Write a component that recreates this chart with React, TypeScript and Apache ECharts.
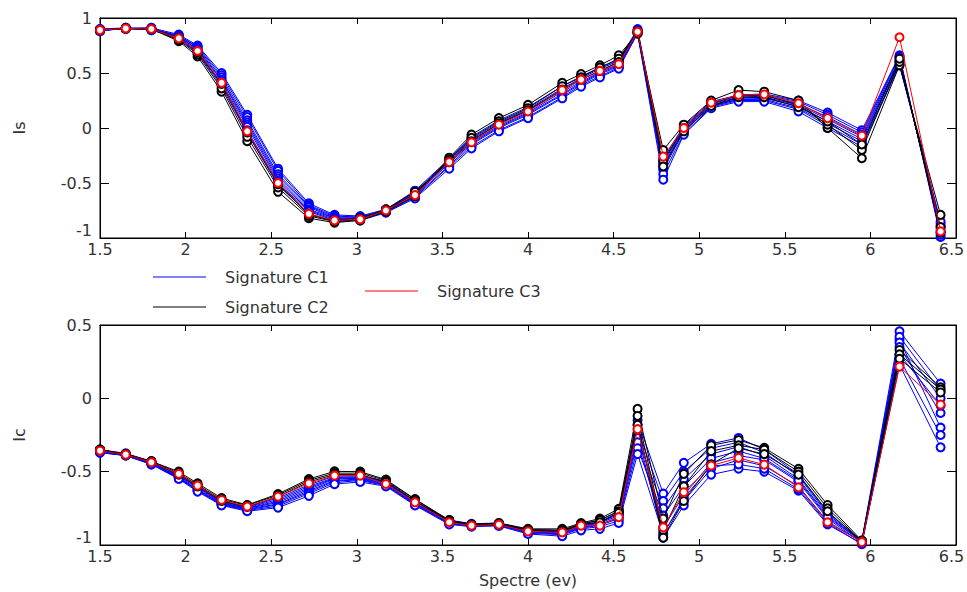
import React, { useEffect, useRef } from "react";
import * as echarts from "echarts";

// Photon energy (eV) of each sample
const energies = [
  1.5, 1.65, 1.8, 1.96, 2.07, 2.21, 2.36, 2.54, 2.72, 2.87, 3.02, 3.17, 3.34, 3.54, 3.67, 3.83,
  4.0, 4.2, 4.31, 4.42, 4.53, 4.64, 4.79, 4.91, 5.07, 5.23, 5.38, 5.58, 5.75, 5.95, 6.17, 6.41,
];

const xTicks = { min: 1.5, max: 6.5, interval: 0.5 };
const isTicks = { min: -1, max: 1, interval: 0.5 };
const icTicks = { min: -1, max: 0.5, interval: 0.5 };

const legendNames = ["Signature C1", "Signature C2", "Signature C3"];

// Is — one row per energy, one column per curve
const isBlueRows = [
  [0.90, 0.89, 0.89, 0.88, 0.89, 0.90, 0.88, 0.89],
  [0.91, 0.905, 0.90, 0.91, 0.905, 0.90, 0.91, 0.905],
  [0.91, 0.90, 0.90, 0.89, 0.90, 0.91, 0.89, 0.90],
  [0.85, 0.84, 0.84, 0.83, 0.83, 0.82, 0.82, 0.81],
  [0.75, 0.74, 0.73, 0.72, 0.71, 0.70, 0.69, 0.68],
  [0.50, 0.48, 0.46, 0.44, 0.43, 0.41, 0.40, 0.38],
  [0.12, 0.10, 0.07, 0.05, 0.03, 0.01, -0.02, -0.05],
  [-0.37, -0.39, -0.42, -0.44, -0.46, -0.48, -0.50, -0.52],
  [-0.685, -0.70, -0.71, -0.72, -0.74, -0.75, -0.76, -0.78],
  [-0.79, -0.80, -0.81, -0.82, -0.82, -0.83, -0.84, -0.85],
  [-0.80, -0.81, -0.81, -0.82, -0.82, -0.83, -0.83, -0.84],
  [-0.74, -0.745, -0.75, -0.75, -0.76, -0.76, -0.765, -0.77],
  [-0.57, -0.58, -0.59, -0.60, -0.61, -0.62, -0.63, -0.64],
  [-0.28, -0.29, -0.30, -0.31, -0.32, -0.34, -0.35, -0.37],
  [-0.08, -0.10, -0.11, -0.13, -0.14, -0.15, -0.17, -0.185],
  [0.07, 0.05, 0.04, 0.02, 0.01, 0.0, -0.02, -0.03],
  [0.19, 0.17, 0.16, 0.14, 0.13, 0.12, 0.10, 0.09],
  [0.38, 0.36, 0.34, 0.33, 0.31, 0.30, 0.28, 0.27],
  [0.47, 0.45, 0.44, 0.42, 0.41, 0.40, 0.39, 0.375],
  [0.55, 0.54, 0.52, 0.51, 0.50, 0.49, 0.47, 0.46],
  [0.62, 0.61, 0.60, 0.58, 0.57, 0.56, 0.55, 0.54],
  [0.90, 0.89, 0.88, 0.88, 0.87, 0.87, 0.86, 0.86],
  [-0.28, -0.30, -0.32, -0.34, -0.36, -0.38, -0.42, -0.47],
  [0.02, 0.01, 0.0, -0.01, -0.02, -0.03, -0.05, -0.06],
  [0.24, 0.23, 0.22, 0.21, 0.20, 0.20, 0.19, 0.18],
  [0.30, 0.29, 0.28, 0.27, 0.26, 0.26, 0.25, 0.24],
  [0.31, 0.30, 0.29, 0.28, 0.27, 0.26, 0.25, 0.24],
  [0.25, 0.24, 0.22, 0.21, 0.20, 0.18, 0.17, 0.15],
  [0.14, 0.12, 0.10, 0.08, 0.06, 0.04, 0.02, 0.0],
  [-0.02, -0.04, -0.06, -0.08, -0.10, -0.12, -0.15, -0.17],
  [0.66, 0.65, 0.64, 0.62, 0.61, 0.60, 0.58, 0.57],
  [-0.99, -0.97, -0.95, -0.93, -0.91, -0.89, -0.87, -0.85],
];

const isBlackRows = [
  [0.89, 0.89, 0.89],
  [0.905, 0.905, 0.905],
  [0.90, 0.90, 0.90],
  [0.79, 0.80, 0.82],
  [0.65, 0.67, 0.69],
  [0.33, 0.36, 0.40],
  [-0.12, -0.08, -0.04],
  [-0.58, -0.54, -0.51],
  [-0.82, -0.80, -0.79],
  [-0.86, -0.85, -0.84],
  [-0.84, -0.83, -0.82],
  [-0.76, -0.75, -0.74],
  [-0.62, -0.60, -0.58],
  [-0.27, -0.29, -0.31],
  [-0.06, -0.09, -0.12],
  [0.09, 0.06, 0.04],
  [0.21, 0.18, 0.16],
  [0.41, 0.38, 0.35],
  [0.49, 0.46, 0.44],
  [0.57, 0.55, 0.52],
  [0.66, 0.63, 0.60],
  [0.86, 0.87, 0.88],
  [-0.20, -0.30, -0.35],
  [0.03, 0.0, -0.03],
  [0.25, 0.22, 0.20],
  [0.345, 0.30, 0.28],
  [0.33, 0.30, 0.28],
  [0.25, 0.21, 0.19],
  [0.0, 0.03, 0.06],
  [-0.275, -0.20, -0.15],
  [0.57, 0.60, 0.63],
  [-0.79, -0.90, -0.95],
];

const isRed = [
  0.89, 0.905, 0.90, 0.815, 0.70, 0.41, -0.03, -0.50, -0.78, -0.84, -0.83, -0.75, -0.61, -0.31, -0.13, 0.03,
  0.15, 0.345, 0.44, 0.52, 0.58, 0.875, -0.26, 0.0, 0.23, 0.30, 0.305, 0.225, 0.09, -0.07, 0.825, -0.94,
];

// Ic — one row per energy, one column per curve
const icBlueRows = [
  [-0.35, -0.355, -0.36, -0.36, -0.365, -0.365, -0.37, -0.37],
  [-0.375, -0.38, -0.38, -0.385, -0.385, -0.39, -0.39, -0.39],
  [-0.43, -0.43, -0.435, -0.44, -0.44, -0.445, -0.45, -0.45],
  [-0.52, -0.525, -0.53, -0.535, -0.54, -0.54, -0.545, -0.55],
  [-0.59, -0.60, -0.605, -0.61, -0.62, -0.625, -0.63, -0.636],
  [-0.70, -0.705, -0.71, -0.715, -0.72, -0.72, -0.725, -0.73],
  [-0.74, -0.745, -0.75, -0.75, -0.755, -0.76, -0.765, -0.77],
  [-0.68, -0.69, -0.70, -0.71, -0.72, -0.725, -0.735, -0.745],
  [-0.59, -0.60, -0.61, -0.62, -0.63, -0.64, -0.65, -0.665],
  [-0.53, -0.54, -0.545, -0.55, -0.56, -0.565, -0.575, -0.585],
  [-0.53, -0.535, -0.54, -0.545, -0.55, -0.555, -0.56, -0.57],
  [-0.565, -0.57, -0.575, -0.58, -0.585, -0.59, -0.595, -0.60],
  [-0.70, -0.705, -0.71, -0.715, -0.72, -0.72, -0.725, -0.73],
  [-0.83, -0.835, -0.84, -0.845, -0.85, -0.85, -0.855, -0.86],
  [-0.855, -0.86, -0.86, -0.865, -0.865, -0.87, -0.87, -0.875],
  [-0.85, -0.855, -0.855, -0.86, -0.86, -0.865, -0.865, -0.87],
  [-0.895, -0.90, -0.905, -0.91, -0.91, -0.915, -0.92, -0.925],
  [-0.90, -0.905, -0.91, -0.915, -0.92, -0.925, -0.93, -0.94],
  [-0.86, -0.865, -0.87, -0.875, -0.88, -0.885, -0.89, -0.90],
  [-0.83, -0.84, -0.845, -0.85, -0.86, -0.865, -0.875, -0.89],
  [-0.77, -0.78, -0.79, -0.80, -0.81, -0.82, -0.835, -0.85],
  [-0.15, -0.18, -0.21, -0.24, -0.27, -0.30, -0.34, -0.38],
  [-0.65, -0.92, -0.70, -0.95, -0.75, -0.88, -0.80, -0.93],
  [-0.44, -0.70, -0.50, -0.73, -0.55, -0.66, -0.60, -0.68],
  [-0.31, -0.48, -0.34, -0.52, -0.38, -0.44, -0.41, -0.46],
  [-0.27, -0.42, -0.30, -0.48, -0.33, -0.39, -0.36, -0.45],
  [-0.35, -0.46, -0.37, -0.50, -0.39, -0.42, -0.41, -0.48],
  [-0.52, -0.60, -0.53, -0.63, -0.55, -0.57, -0.56, -0.62],
  [-0.78, -0.84, -0.79, -0.86, -0.80, -0.82, -0.81, -0.85],
  [-0.97, -0.98, -0.975, -0.99, -0.98, -0.985, -0.975, -0.995],
  [0.457, 0.40, 0.42, 0.23, 0.38, 0.35, 0.30, 0.27],
  [0.10, -0.20, 0.05, -0.334, 0.0, -0.10, -0.05, -0.25],
];

const icBlackRows = [
  [-0.35, -0.35, -0.355],
  [-0.38, -0.38, -0.385],
  [-0.43, -0.43, -0.435],
  [-0.50, -0.51, -0.52],
  [-0.58, -0.59, -0.60],
  [-0.68, -0.69, -0.70],
  [-0.727, -0.73, -0.74],
  [-0.652, -0.66, -0.67],
  [-0.55, -0.56, -0.57],
  [-0.498, -0.51, -0.52],
  [-0.50, -0.51, -0.52],
  [-0.554, -0.56, -0.57],
  [-0.687, -0.69, -0.70],
  [-0.83, -0.835, -0.84],
  [-0.86, -0.86, -0.865],
  [-0.85, -0.855, -0.86],
  [-0.89, -0.895, -0.90],
  [-0.89, -0.90, -0.91],
  [-0.85, -0.855, -0.86],
  [-0.82, -0.83, -0.845],
  [-0.754, -0.77, -0.78],
  [-0.072, -0.12, -0.18],
  [-0.82, -0.90, -0.95],
  [-0.515, -0.60, -0.70],
  [-0.32, -0.36, -0.45],
  [-0.284, -0.32, -0.34],
  [-0.338, -0.35, -0.38],
  [-0.48, -0.50, -0.52],
  [-0.727, -0.75, -0.77],
  [-0.97, -0.975, -0.98],
  [0.33, 0.30, 0.27],
  [0.075, 0.06, 0.04],
];

const icRed = [
  -0.357, -0.384, -0.436, -0.515, -0.595, -0.693, -0.738, -0.67, -0.58, -0.527, -0.527, -0.584, -0.709, -0.845,
  -0.868, -0.861, -0.907, -0.914, -0.868, -0.868, -0.81, -0.21, -0.88, -0.64, -0.459, -0.406, -0.452, -0.607,
  -0.845, -0.98, 0.216, -0.043,
];

const FONT = "DejaVu Sans";
const TEXT = "#333";
const colors = { c1: "#0000ff", c2: "#000000", c3: "#ff0000" };

function column(rows: number[][], k: number) {
  return rows.map((r, i) => [energies[i], r[k]]);
}
function pairs(vals: number[]) {
  return vals.map((v, i) => [energies[i], v]);
}

function lineSeries(name: string, color: string, data: number[][], panel: number, z: number) {
  return {
    type: "line",
    name,
    data,
    xAxisIndex: panel * 2,
    yAxisIndex: panel * 2,
    symbol: "emptyCircle",
    symbolSize: 8,
    showSymbol: true,
    clip: false,
    z,
    lineStyle: { color, width: 1 },
    itemStyle: { color, borderColor: color, borderWidth: 1 },
    emphasis: { disabled: true },
  };
}

function buildSeries() {
  const out: any[] = [];
  const panels = [
    { blue: isBlueRows, black: isBlackRows, red: isRed },
    { blue: icBlueRows, black: icBlackRows, red: icRed },
  ];
  panels.forEach((p, panel) => {
    for (let k = 0; k < p.blue[0].length; k++) out.push(lineSeries(legendNames[0], colors.c1, column(p.blue, k), panel, 2));
    for (let k = 0; k < p.black[0].length; k++) out.push(lineSeries(legendNames[1], colors.c2, column(p.black, k), panel, 3));
    out.push(lineSeries(legendNames[2], colors.c3, pairs(p.red), panel, 4));
  });
  return out;
}

const labelStyle = { color: TEXT, fontSize: 16, fontFamily: FONT };

function xAxes(gridIndex: number) {
  return [
    {
      type: "value",
      gridIndex,
      ...xTicks,
      position: "bottom",
      axisLine: { show: true, onZero: false, lineStyle: { color: "#000", width: 1 } },
      axisTick: { show: true, inside: true, length: 6, lineStyle: { color: "#000" } },
      axisLabel: {
        ...labelStyle,
        lineHeight: 12,
        margin: 5,
        showMinLabel: true,
        showMaxLabel: true,
        formatter: (v: number) => (Math.abs(v - xTicks.max) < 1e-9 ? `{last|${v}}` : `${v}`),
        rich: { last: { ...labelStyle, lineHeight: 12, padding: [0, 9, 0, 0] } },
      },
      splitLine: { show: false },
      ...(gridIndex === 1
        ? { name: "Spectre (ev)", nameLocation: "middle", nameGap: 27, nameTextStyle: { ...labelStyle } }
        : {}),
    },
    {
      type: "value",
      gridIndex,
      ...xTicks,
      position: "top",
      axisLine: { show: true, onZero: false, lineStyle: { color: "#000", width: 1 } },
      axisTick: { show: true, inside: true, length: 6, lineStyle: { color: "#000" } },
      axisLabel: { show: false },
      splitLine: { show: false },
    },
  ];
}

function yAxes(gridIndex: number, ticks: any, name: string) {
  return [
    {
      type: "value",
      gridIndex,
      ...ticks,
      position: "left",
      name,
      nameLocation: "middle",
      nameGap: 73,
      nameRotate: 90,
      nameTextStyle: { ...labelStyle },
      axisLine: { show: true, onZero: false, lineStyle: { color: "#000", width: 1 } },
      axisTick: { show: true, inside: true, length: 9, lineStyle: { color: "#000" } },
      axisLabel: {
        ...labelStyle,
        lineHeight: 16,
        margin: 8,
        showMinLabel: true,
        showMaxLabel: true,
        verticalAlignMinLabel: "bottom",
      },
      splitLine: { show: false },
    },
    {
      type: "value",
      gridIndex,
      ...ticks,
      position: "right",
      axisLine: { show: true, onZero: false, lineStyle: { color: "#000", width: 1 } },
      axisTick: { show: true, inside: true, length: 9, lineStyle: { color: "#000" } },
      axisLabel: { show: false },
      splitLine: { show: false },
    },
  ];
}

function legendItem(name: string, color: string, left: number, top: number) {
  return {
    data: [{ name, icon: "rect", itemStyle: { color, borderWidth: 0 } }],
    left,
    top,
    itemWidth: 53,
    itemHeight: 1,
    selectedMode: false,
    itemStyle: { borderWidth: 0 },
    textStyle: { ...labelStyle, padding: [0, 0, 0, 14] },
  };
}

export default function App() {
  const ref = useRef<HTMLDivElement>(null);
  useEffect(() => {
    if (!ref.current) return;
    const chart = echarts.init(ref.current, null, { renderer: "svg" });
    chart.setOption({
      animation: false,
      backgroundColor: "#ffffff",
      grid: [
        {
          left: 92, top: 10, width: 856, height: 220,
          show: true, borderColor: "#000", borderWidth: 1,
          containLabel: false, outerBoundsMode: "none",
        },
        {
          left: 92, top: 317, width: 856, height: 220,
          show: true, borderColor: "#000", borderWidth: 1,
          containLabel: false, outerBoundsMode: "none",
        },
      ],
      legend: [
        legendItem(legendNames[0], colors.c1, 140, 256),
        legendItem(legendNames[1], colors.c2, 140, 286),
        legendItem(legendNames[2], colors.c3, 352, 270),
      ],
      xAxis: [...xAxes(0), ...xAxes(1)],
      yAxis: [...yAxes(0, isTicks, "Is"), ...yAxes(1, icTicks, "Ic")],
      series: buildSeries(),
    });
    return () => chart.dispose();
  }, []);
  return (
    <div
      ref={ref}
      style={{ position: "absolute", left: 8, top: 8, width: 959, height: 584 }}
    />
  );
}
